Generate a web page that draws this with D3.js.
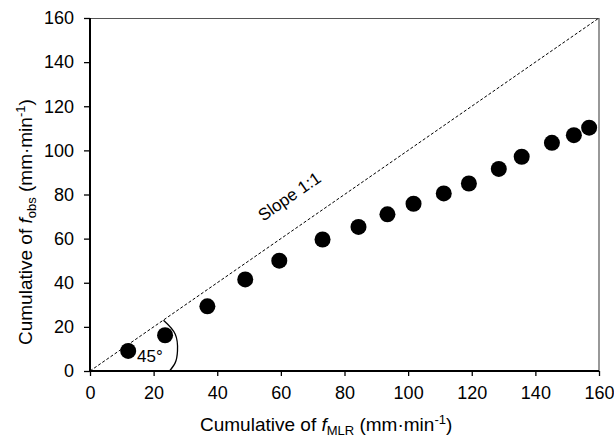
<!DOCTYPE html>
<html lang="en">
  <head>
    <meta charset="UTF-8" />
    <title>Cumulative f</title>
    <script src="https://cdn.jsdelivr.net/npm/d3@7/dist/d3.min.js"></script>
    <style>
      body { margin: 0; background: #fff; }
      #svgBox { width: 614px; height: 438px; display: block; }
      text { font-family: Arial, 'Liberation Sans', sans-serif; fill: #000; }
    </style>
  </head>
  <body>
    <svg id="svgBox"></svg>
  </body>
  <script>
    // cumulative values
    const fMLR = [12.0, 23.6, 36.9, 48.8, 59.5, 73.1, 84.4, 93.5, 101.7, 111.2, 119.1, 128.5, 135.7, 145.2, 152.1, 156.9]
    const fObs = [9.1, 16.2, 29.3, 41.5, 50.0, 59.6, 65.3, 71.0, 75.8, 80.5, 85.0, 91.6, 97.1, 103.4, 106.9, 110.3]
    const xTicks = [0, 20, 40, 60, 80, 100, 120, 140, 160]
    const yTicks = [0, 20, 40, 60, 80, 100, 120, 140, 160]
    // hand drawn angle mark, in data units
    const angleMark = [[23.1, 23.0], [26.8, 16.7], [27.5, 9.1], [26.8, 3.8], [25.0, 0]]

    function init() {
      const svg = d3.select('#svgBox')
      const margin = { top: 18, right: 15, bottom: 67, left: 90 }
      const width = 614, height = 438
      const innerWidth = width - margin.left - margin.right
      const innerHeight = height - margin.top - margin.bottom

      const xScale = d3.scaleLinear().domain([0, 160]).range([0, innerWidth])
      const yScale = d3.scaleLinear().domain([0, 160]).range([innerHeight, 0])

      const g = svg.append('g')
        .attr('transform', `translate(${margin.left} ${margin.top})`)

      // top and right frame
      g.append('path')
        .attr('d', `M0,0.5H${innerWidth}V${innerHeight}`)
        .attr('fill', 'none')
        .attr('stroke', '#555')
        .attr('stroke-width', 1.2)

      // 1:1 line
      g.append('line')
        .attr('x1', xScale(0)).attr('y1', yScale(0))
        .attr('x2', xScale(160)).attr('y2', yScale(160))
        .attr('stroke', '#000')
        .attr('stroke-width', 1)
        .attr('stroke-dasharray', '3,2')

      const angle = Math.atan2(yScale(0) - yScale(160), xScale(160) - xScale(0)) * 180 / Math.PI
      g.append('text')
        .attr('transform', `translate(${xScale(68)} ${yScale(68)}) rotate(${-angle})`)
        .attr('dy', -24)
        .attr('text-anchor', 'middle')
        .style('font-size', '17px')
        .text('Slope 1:1')

      // angle mark
      g.append('path')
        .attr('d', d3.line().x(d => xScale(d[0])).y(d => yScale(d[1])).curve(d3.curveNatural)(angleMark))
        .attr('fill', 'none')
        .attr('stroke', '#000')
        .attr('stroke-width', 1.3)

      g.append('text')
        .attr('x', xScale(14.8))
        .attr('y', yScale(4.3))
        .style('font-size', '17px')
        .text('45°')

      // points
      g.selectAll('circle')
        .data(fMLR.map((d, i) => ({ x: d, y: fObs[i] })))
        .enter()
        .append('circle')
        .attr('cx', d => xScale(d.x))
        .attr('cy', d => yScale(d.y))
        .attr('r', 8)
        .attr('fill', '#000')

      // axes
      const xAxis = d3.axisBottom(xScale).tickValues(xTicks).tickSize(5).tickPadding(10)
      const yAxis = d3.axisLeft(yScale).tickValues(yTicks).tickSize(6).tickPadding(10)
      const xg = g.append('g').attr('transform', `translate(0 ${innerHeight})`).call(xAxis)
      const yg = g.append('g').call(yAxis)
      ;[xg, yg].forEach(a => {
        a.select('.domain').attr('stroke-width', 2).attr('stroke', '#000')
        a.selectAll('.tick line').attr('stroke-width', 1.3).attr('stroke', '#000')
        a.selectAll('.tick text').style('font-size', '18px').style('font-family', 'Arial, Liberation Sans')
      })
      xg.select('.domain').attr('d', `M0,0H${innerWidth}`)
      yg.select('.domain').attr('d', `M0,${innerHeight}V0`)

      // axis titles
      const xt = svg.append('text')
        .attr('x', 200)
        .attr('y', 431)
        .style('font-size', '19px')
      xt.append('tspan').text('Cumulative of ')
      xt.append('tspan').style('font-style', 'italic').text('f')
      xt.append('tspan').attr('dy', 4).style('font-size', '13px').text('MLR')
      xt.append('tspan').attr('dy', -4).text(' (mm·min')
      xt.append('tspan').attr('dy', -7).style('font-size', '13px').text('-1')
      xt.append('tspan').attr('dy', 7).text(')')

      const yt = svg.append('text')
        .attr('transform', 'translate(32 345) rotate(-90)')
        .style('font-size', '19px')
      yt.append('tspan').text('Cumulative of ')
      yt.append('tspan').style('font-style', 'italic').text('f')
      yt.append('tspan').attr('dy', 4).style('font-size', '13px').text('obs')
      yt.append('tspan').attr('dy', -4).text(' (mm·min')
      yt.append('tspan').attr('dy', -7).style('font-size', '13px').text('-1')
      yt.append('tspan').attr('dy', 7).text(')')
    }
    init()
  </script>
</html>
